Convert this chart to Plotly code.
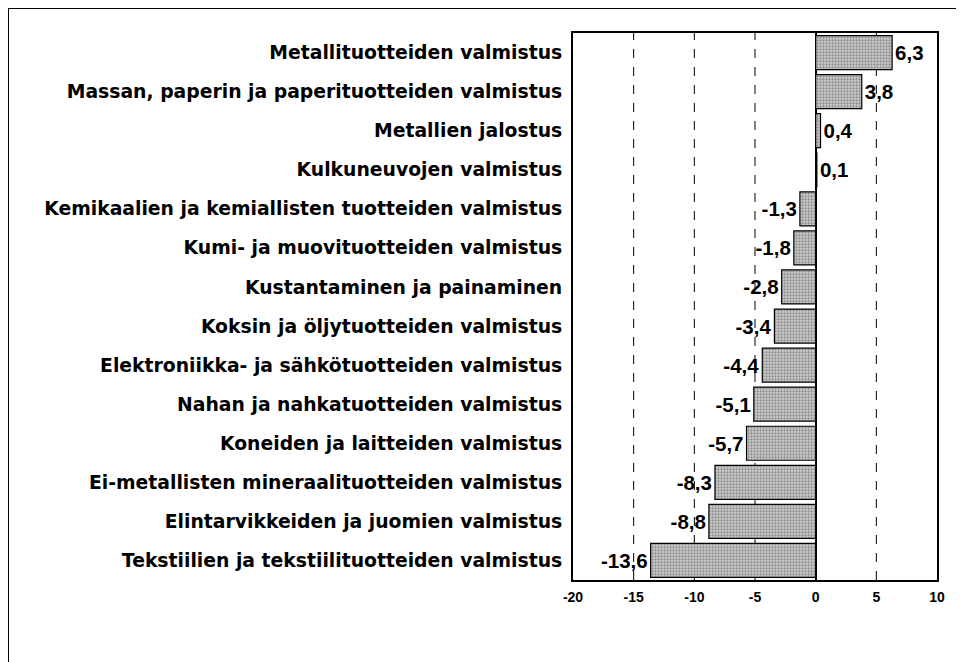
import plotly.graph_objects as go

categories = [
    "Metallituotteiden valmistus",
    "Massan, paperin ja paperituotteiden valmistus",
    "Metallien jalostus",
    "Kulkuneuvojen valmistus",
    "Kemikaalien ja kemiallisten tuotteiden valmistus",
    "Kumi- ja muovituotteiden valmistus",
    "Kustantaminen ja painaminen",
    "Koksin ja öljytuotteiden valmistus",
    "Elektroniikka- ja sähkötuotteiden valmistus",
    "Nahan ja nahkatuotteiden valmistus",
    "Koneiden ja laitteiden valmistus",
    "Ei-metallisten mineraalituotteiden valmistus",
    "Elintarvikkeiden ja juomien valmistus",
    "Tekstiilien ja tekstiilituotteiden valmistus",
]
values = [6.3, 3.8, 0.4, 0.1, -1.3, -1.8, -2.8, -3.4, -4.4, -5.1, -5.7, -8.3, -8.8, -13.6]
x_ticks = [-20, -15, -10, -5, 0, 5, 10]

W, H = 956, 654
ML, MR, MT, MB = 565, 27, 25, 82
PW, PH = W - ML - MR, H - MT - MB

fig = go.Figure()
fig.add_trace(go.Bar(
    x=values, y=categories, orientation="h",
    marker=dict(color="#bcbcbc", line=dict(color="black", width=1.2),
                pattern=dict(shape=".", fgcolor="#4a4a4a", bgcolor="#cfcfcf", size=3, solidity=0.45)),
    texttemplate="%{x:.1f}", textposition="outside", cliponaxis=False, constraintext="none",
    textfont=dict(family="Liberation Sans", size=20.5, color="black", weight="bold"),
    showlegend=False,
))

for v in [-15, -10, -5, 5]:
    fig.add_shape(type="line", xref="x", yref="paper", x0=v, x1=v, y0=0, y1=1,
                  line=dict(color="black", width=1, dash="dash"), layer="below")

# outer frame (left and top edges visible)
fx = -ML / PW
fy = 1 + MT / PH
fig.add_shape(type="line", xref="paper", yref="paper", x0=fx, x1=fx, y0=-1, y1=fy,
              line=dict(color="black", width=2))
fig.add_shape(type="line", xref="paper", yref="paper", x0=fx, x1=2, y0=fy, y1=fy,
              line=dict(color="black", width=2))

fig.update_layout(
    width=W, height=H,
    margin=dict(l=ML, r=MR, t=MT, b=MB, autoexpand=False),
    paper_bgcolor="white", plot_bgcolor="white",
    separators=", ",
    bargap=0.13,
    font=dict(family="Liberation Sans, Arial", color="black"),
    xaxis=dict(range=[-20, 10], tickvals=x_ticks, ticktext=[str(t) for t in x_ticks],
               showgrid=False, zeroline=True, zerolinecolor="black", zerolinewidth=1.5,
               showline=True, linecolor="black", linewidth=2, mirror=True, automargin=False,
               ticks="", tickfont=dict(size=14, weight="bold"), ticklabelstandoff=3),
    yaxis=dict(autorange="reversed", showgrid=False, showline=True, linecolor="black", linewidth=2,
               mirror=True, ticks="", automargin=False,
               tickfont=dict(family="DejaVu Sans", size=18.8, weight="bold"), ticklabelstandoff=5),
)

fig.write_html("out.html")
